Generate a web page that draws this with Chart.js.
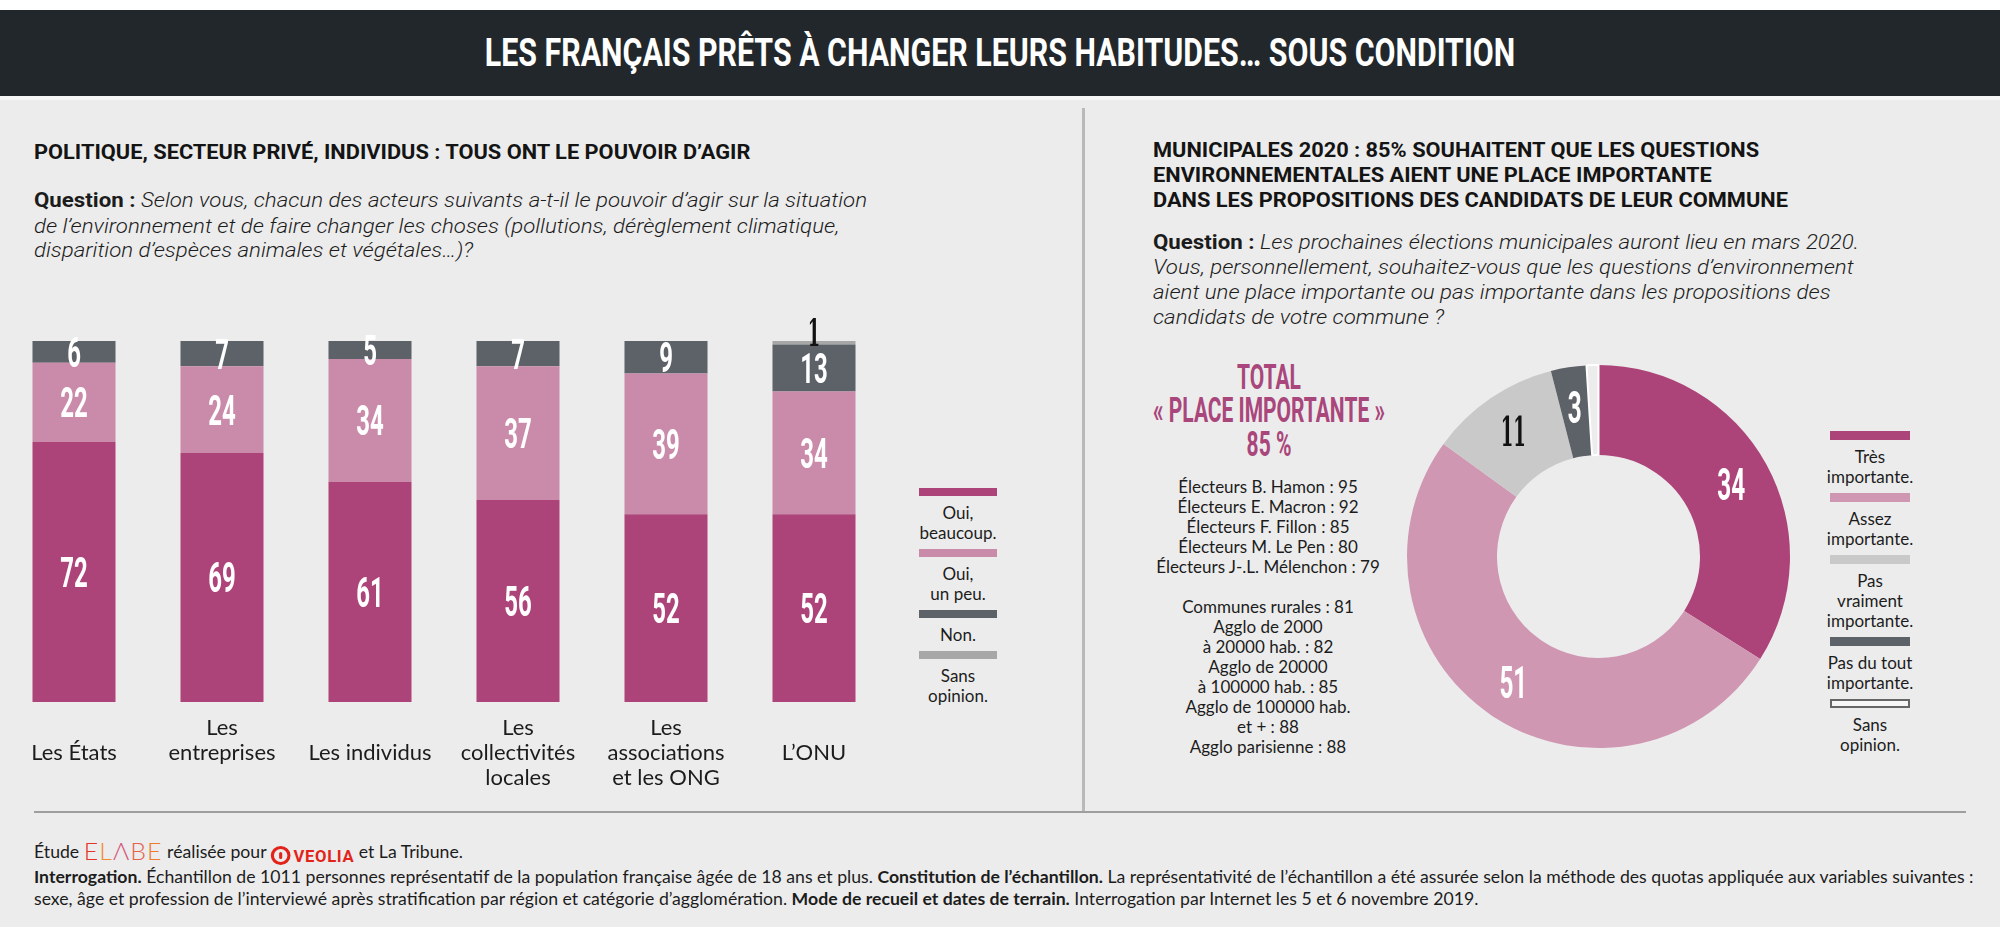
<!DOCTYPE html>
<html lang="fr">
<head>
<meta charset="utf-8">
<title>Les Français prêts à changer leurs habitudes… sous condition</title>
<script src="https://cdn.jsdelivr.net/npm/chart.js@4.4.1/dist/chart.umd.min.js"></script>
<style>
  html, body { margin: 0; padding: 0; background: #fff; }
  #page { position: relative; width: 2000px; height: 931px; overflow: hidden; background: #fff;
          font-family: Lato, 'Open Sans', sans-serif; color: #1c1c1c; }
  .band { position: absolute; left: 0; width: 2000px; }
  .line { position: absolute; white-space: nowrap; transform-origin: 0 50%; }
  .ctr { transform-origin: 50% 50%; }
  .title { font: 700 38px Roboto, sans-serif; color: #fff; height: 44px; line-height: 44px; }
  .hd { font: 700 21px Roboto, sans-serif; color: #141414; height: 26px; line-height: 26px; }
  .q { font: 400 20px Roboto, sans-serif; color: #1c1c1c; height: 26px; line-height: 26px; }
  .q i { font-style: italic; font-weight: 300; }
  .q b { font-weight: 700; }
  .tot { font: 700 35px Roboto, sans-serif; color: #a9467b; height: 34px; line-height: 34px; }
  .list { position: absolute; left: 1128px; width: 280px; top: 477px; text-align: center;
          font: 400 17px Lato, sans-serif; line-height: 20px; color: #1c1c1c; }
  .legend { position: absolute; display: flex; flex-direction: column; text-align: center;
            font: 400 17px Lato, sans-serif; line-height: 20px; color: #1c1c1c; }
  .legend .sw { margin: 0 20px 7px 20px; }
  .legend .tx { margin-bottom: 6px; }
  .foot { font: 400 17px Lato, sans-serif; color: #1c1c1c; height: 24px; line-height: 24px; }
  .foot b { font-weight: 700; }
  .elabe { font: 300 24px Lato, sans-serif; letter-spacing: 1px; vertical-align: -2px; }
  .veolia { display: inline-block; vertical-align: -4px; }
  .veolia .ring { display: inline-block; width: 13px; height: 13px; border: 3px solid #e2231a; border-radius: 50%;
                  vertical-align: -3px; position: relative; }
  .veolia .ring:after { content: ''; position: absolute; left: 5px; top: 3px; width: 3px; height: 7px; background: #e2231a; border-radius: 2px; }
  .veolia .nm { font: 700 16px Roboto, sans-serif; color: #e2231a; letter-spacing: 0.6px; margin-left: 3px; }
  canvas { position: absolute; }
</style>
</head>
<body>
<div id="page">
  <div class="band" style="top:0;height:10px;background:#fff"></div>
  <div class="band" style="top:10px;height:86px;background:#22272b"></div>
  <div class="band" style="top:96px;height:4px;background:#f6f6f6"></div>
  <div class="band" style="top:100px;height:827px;background:#ececec"></div>

  <div class="line ctr title" style="left:1000px;top:31px" data-w="1030">LES FRANÇAIS PRÊTS À CHANGER LEURS HABITUDES… SOUS CONDITION</div>

  <div style="position:absolute;left:1082px;top:108px;width:3px;height:703px;background:#b9b9b9"></div>
  <div style="position:absolute;left:34px;top:811px;width:1932px;height:2px;background:#9e9e9e"></div>

  <!-- left panel texts -->
  <div class="line hd" style="left:34px;top:139px" data-w="716" data-group="hd">POLITIQUE, SECTEUR PRIVÉ, INDIVIDUS : TOUS ONT LE POUVOIR D’AGIR</div>
  <div class="line q" style="left:34px;top:187px" data-w="833" data-group="q"><b>Question :</b> <i>Selon vous, chacun des acteurs suivants a-t-il le pouvoir d’agir sur la situation</i></div>
  <div class="line q" style="left:34px;top:213px" data-g="q"><i>de l’environnement et de faire changer les choses (pollutions, dérèglement climatique,</i></div>
  <div class="line q" style="left:34px;top:237px" data-g="q"><i>disparition d’espèces animales et végétales…)?</i></div>

  <!-- right panel texts -->
  <div class="line hd" style="left:1153px;top:137px" data-g="hd">MUNICIPALES 2020 : 85% SOUHAITENT QUE LES QUESTIONS</div>
  <div class="line hd" style="left:1153px;top:162px" data-g="hd">ENVIRONNEMENTALES AIENT UNE PLACE IMPORTANTE</div>
  <div class="line hd" style="left:1153px;top:187px" data-g="hd">DANS LES PROPOSITIONS DES CANDIDATS DE LEUR COMMUNE</div>
  <div class="line q" style="left:1153px;top:229px" data-g="q"><b>Question :</b> <i>Les prochaines élections municipales auront lieu en mars 2020.</i></div>
  <div class="line q" style="left:1153px;top:254px" data-g="q"><i>Vous, personnellement, souhaitez-vous que les questions d’environnement</i></div>
  <div class="line q" style="left:1153px;top:279px" data-g="q"><i>aient une place importante ou pas importante dans les propositions des</i></div>
  <div class="line q" style="left:1153px;top:304px" data-g="q"><i>candidats de votre commune ?</i></div>

  <div class="line ctr tot" style="left:1269px;top:361px" data-g="tot">TOTAL</div>
  <div class="line ctr tot" style="left:1269px;top:394px" data-w="232" data-group="tot">« PLACE IMPORTANTE »</div>
  <div class="line ctr tot" style="left:1269px;top:428px" data-g="tot">85 %</div>
  <div class="list" id="subgroups"></div>

  <div class="legend" id="legendBars" style="left:899px;width:118px;top:488px"></div>
  <div class="legend" id="legendDonut" style="left:1810px;width:120px;top:431px"></div>

  <canvas id="bars" width="900" height="500" style="left:0;top:300px"></canvas>
  <canvas id="donut" width="401" height="401" style="left:1398px;top:356px"></canvas>

  <!-- footer -->
  <div class="line foot" style="left:34px;top:836px" data-g="ft">Étude <span class="elabe"><span style="color:#e5352b">E</span><span style="color:#ef8a2c">L</span><span style="color:#d6577f">Λ</span><span style="color:#e4634f">B</span><span style="color:#ee7b2e">E</span></span> réalisée pour <span class="veolia"><span class="ring"></span><span class="nm">VEOLIA</span></span> et La Tribune.</div>
  <div class="line foot" style="left:34px;top:865px" data-w="1939" data-group="ft"><b>Interrogation.</b> Échantillon de 1011 personnes représentatif de la population française âgée de 18 ans et plus. <b>Constitution de l’échantillon.</b> La représentativité de l’échantillon a été assurée selon la méthode des quotas appliquée aux variables suivantes :</div>
  <div class="line foot" style="left:34px;top:887px" data-g="ft">sexe, âge et profession de l’interviewé après stratification par région et catégorie d’agglomération. <b>Mode de recueil et dates de terrain.</b> Interrogation par Internet les 5 et 6 novembre 2019.</div>
</div>

<script>
// ---- données : pouvoir d'agir (barres empilées) ----
var acteurs = [
  ['', 'Les États'],
  ['Les', 'entreprises'],
  ['', 'Les individus'],
  ['Les', 'collectivités', 'locales'],
  ['Les', 'associations', 'et les ONG'],
  ['', 'L’ONU']
];
var reponses = [['Oui,', 'beaucoup.'], ['Oui,', 'un peu.'], ['Non.'], ['Sans', 'opinion.']];
var ouiBeaucoup = [72, 69, 61, 56, 52, 52];
var ouiUnPeu = [22, 24, 34, 37, 39, 34];
var non = [6, 7, 5, 7, 9, 13];
var sansOpinion = [0, 0, 0, 0, 0, 1];

// ---- données : municipales 2020 (anneau) ----
var importance = [['Très', 'importante.'], ['Assez', 'importante.'], ['Pas', 'vraiment', 'importante.'], ['Pas du tout', 'importante.'], ['Sans', 'opinion.']];
var importanceValeurs = [34, 51, 11, 3, 1];
var sousGroupes = [
  'Électeurs B. Hamon : 95', 'Électeurs E. Macron : 92', 'Électeurs F. Fillon : 85',
  'Électeurs M. Le Pen : 80', 'Électeurs J-.L. Mélenchon : 79', '',
  'Communes rurales : 81', 'Agglo de 2000', 'à 20000 hab. : 82', 'Agglo de 20000',
  'à 100000 hab. : 85', 'Agglo de 100000 hab.', 'et + : 88', 'Agglo parisienne : 88'
];

var MAG = '#ad4479', PINK = '#ca8aa9', DARK = '#5d6268';
var barColors = [MAG, PINK, DARK, '#a7a7a7'];
var donutColors = [MAG, '#d097b3', '#c9c9c9', DARK, '#ececec'];

var whiteNum = { font: '700 42px Roboto, sans-serif', color: '#ffffff', sx: 0.57, cap: 30 };
var blackNum = { font: '700 37px "DejaVu Serif", serif', color: '#111111', sx: 0.48, cap: 27 };
var whiteBig = { font: '700 45px Roboto, sans-serif', color: '#ffffff', sx: 0.54, cap: 32 };
var blackBig = { font: '700 41px "DejaVu Serif", serif', color: '#111111', sx: 0.44, cap: 30 };

function drawNum(ctx, txt, x, y, st) {
  ctx.save();
  ctx.translate(x, y + st.cap / 2);
  ctx.scale(st.sx, 1);
  ctx.font = st.font;
  ctx.fillStyle = st.color;
  ctx.textAlign = 'center';
  ctx.textBaseline = 'alphabetic';
  ctx.fillText(txt, 0, 0);
  ctx.restore();
}

// legends (HTML, built from the arrays)
function buildLegend(id, names, colors, outlined) {
  var box = document.getElementById(id);
  names.forEach(function (lines, i) {
    var sw = document.createElement('div');
    sw.className = 'sw';
    sw.style.height = id === 'legendBars' ? '8px' : '9px';
    sw.style.boxSizing = 'border-box';
    if (outlined && i === names.length - 1) {
      sw.style.border = '2px solid #666';
      sw.style.background = '#f6f6f6';
    } else {
      sw.style.background = colors[i];
    }
    var tx = document.createElement('div');
    tx.className = 'tx';
    tx.innerHTML = lines.join('<br>');
    box.appendChild(sw);
    box.appendChild(tx);
  });
}
buildLegend('legendBars', reponses, barColors, false);
buildLegend('legendDonut', importance, donutColors, true);
document.getElementById('subgroups').innerHTML = sousGroupes.map(function (s) { return s || '&nbsp;'; }).join('<br>');

var barLabels = {
  id: 'barLabels',
  afterDatasetsDraw: function (chart) {
    var ctx = chart.ctx;
    chart.data.datasets.forEach(function (ds, i) {
      chart.getDatasetMeta(i).data.forEach(function (bar, j) {
        var v = ds.data[j];
        if (!v) return;
        if (i === 3) drawNum(ctx, String(v), bar.x, bar.y - 9, blackNum);
        else drawNum(ctx, String(v), bar.x, (bar.y + bar.base) / 2, whiteNum);
      });
    });
  }
};

new Chart(document.getElementById('bars'), {
  type: 'bar',
  data: {
    labels: acteurs,
    datasets: [
      { label: reponses[0].join(' '), data: ouiBeaucoup, backgroundColor: barColors[0] },
      { label: reponses[1].join(' '), data: ouiUnPeu, backgroundColor: barColors[1] },
      { label: reponses[2].join(' '), data: non, backgroundColor: barColors[2] },
      { label: reponses[3].join(' '), data: sansOpinion, backgroundColor: barColors[3] }
    ]
  },
  options: {
    responsive: false,
    animation: false,
    devicePixelRatio: 1,
    layout: { padding: { top: 41, right: 12, left: 0, bottom: 0 } },
    datasets: { bar: { categoryPercentage: 1, barPercentage: 0.561, borderWidth: 0 } },
    plugins: { legend: { display: false }, tooltip: { enabled: false } },
    scales: {
      x: {
        stacked: true,
        grid: { display: false, drawTicks: false },
        border: { display: false },
        ticks: { color: '#1c1c1c', padding: 13, autoSkip: false, maxRotation: 0,
                 font: { family: 'Lato', size: 22, lineHeight: 1.14 } },
        afterFit: function (scale) { scale.height = 98; }
      },
      y: { stacked: true, min: 0, max: 100, display: false }
    }
  },
  plugins: [barLabels]
});

var donutLabels = {
  id: 'donutLabels',
  afterDatasetsDraw: function (chart) {
    var ctx = chart.ctx;
    var ds = chart.data.datasets[0];
    chart.getDatasetMeta(0).data.forEach(function (arc, i) {
      var v = ds.data[i];
      if (v < 2) return;
      var p = arc.getProps(['startAngle', 'endAngle', 'innerRadius', 'outerRadius', 'x', 'y'], true);
      var a = (p.startAngle + p.endAngle) / 2;
      var r = (p.innerRadius + p.outerRadius) / 2 + 5;
      drawNum(ctx, String(v), p.x + Math.cos(a) * r, p.y + Math.sin(a) * r, i === 2 ? blackBig : whiteBig);
    });
  }
};

new Chart(document.getElementById('donut'), {
  type: 'doughnut',
  data: {
    labels: importance.map(function (l) { return l.join(' '); }),
    datasets: [{
      data: importanceValeurs,
      backgroundColor: donutColors,
      borderColor: ['#ffffff', '#ffffff', '#ffffff', '#ffffff', '#ffffff'],
      borderWidth: [0, 0, 0, 0, 2]
    }]
  },
  options: {
    responsive: false,
    animation: false,
    devicePixelRatio: 1,
    cutout: '53%',
    layout: { padding: 8 },
    plugins: { legend: { display: false }, tooltip: { enabled: false } }
  },
  plugins: [donutLabels]
});

// squeeze text lines to the reference widths (condensed look)
function fitText() {
  var k = {};
  document.querySelectorAll('.line').forEach(function (el) { el.style.transform = 'none'; });
  document.querySelectorAll('[data-w]').forEach(function (el) {
    var s = +el.dataset.w / el.offsetWidth;
    if (el.dataset.group) k[el.dataset.group] = s;
    el.style.transform = (el.classList.contains('ctr') ? 'translateX(-50%) ' : '') + 'scaleX(' + s + ')';
  });
  document.querySelectorAll('[data-g]').forEach(function (el) {
    var s = k[el.dataset.g] || 1;
    el.style.transform = (el.classList.contains('ctr') ? 'translateX(-50%) ' : '') + 'scaleX(' + s + ')';
  });
}
fitText();
if (document.fonts && document.fonts.ready) document.fonts.ready.then(fitText);
</script>
</body>
</html>
